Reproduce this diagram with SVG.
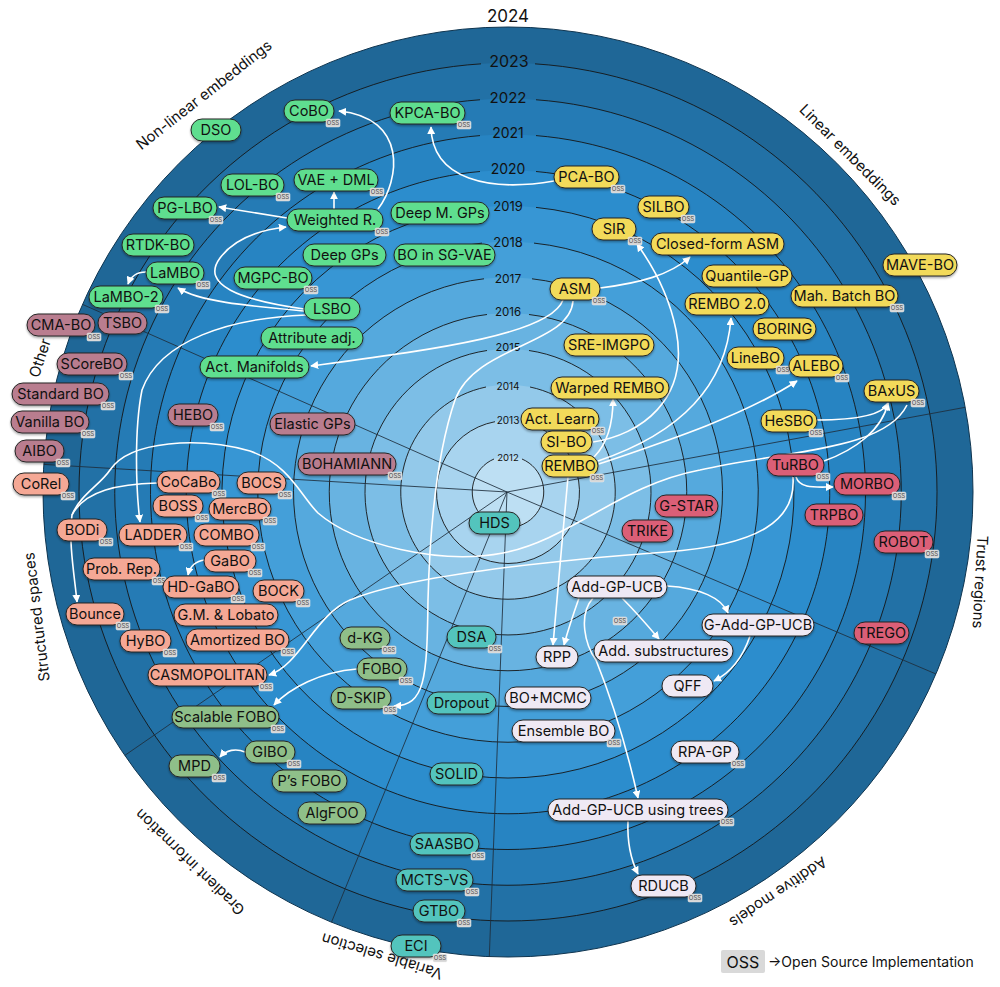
<svg xmlns="http://www.w3.org/2000/svg" width="1000" height="987" viewBox="0 0 1000 987">
<defs>
<style>
text{font-family:Inter,"Liberation Sans",sans-serif;fill:#111}
.yr{fill:none;stroke:#151515;stroke-width:0.9}
.sec{stroke:#1e2e3c;stroke-width:1;stroke-opacity:0.85}
.yl{text-anchor:middle}
.sl{font-size:15px;text-anchor:middle}
.node rect{stroke:#262626;stroke-width:1;filter:url(#sh)}
.node text{font-size:14.5px;text-anchor:middle}
text.ot{font-size:6px;fill:#4a4a4a;text-anchor:middle}
.nl rect{fill:#5ede8f}
.lin rect{fill:#f2da5a}
.oth rect{fill:#b97d8f}
.str rect{fill:#f5a895}
.grd rect{fill:#8fbf89}
.var rect{fill:#52c4bd}
.add rect{fill:#efe9f4}
.tr rect{fill:#db5f77}
.conn path{fill:none;stroke:#fff;stroke-width:1.6;marker-end:url(#ah)}
.conn path.nm{marker-end:none}
</style>
<filter id="sh" x="-20%" y="-40%" width="140%" height="200%"><feDropShadow dx="0" dy="1.5" stdDeviation="1.2" flood-color="#000" flood-opacity="0.35"/></filter>
<marker id="ah" viewBox="0 0 10 10" refX="9" refY="5" markerWidth="8" markerHeight="8" markerUnits="userSpaceOnUse" orient="auto"><path d="M0,0 L10,5 L0,10 z" fill="#fff"/></marker>
<g id="oss"><rect width="14" height="8" rx="1.5" fill="#d5d5d5" stroke="#efefef" stroke-width="0.5"/><text class="ot" x="7" y="6.3">OSS</text></g>
</defs>

<g id="rings">
<circle cx="508" cy="492" r="465" fill="#1f6797" stroke="#0f3550" stroke-width="1"/>
<circle cx="508" cy="492" r="429" fill="#2271a6"/>
<circle cx="508" cy="492" r="393.25" fill="#257bb5"/>
<circle cx="508" cy="492" r="357.5" fill="#2784c2"/>
<circle cx="508" cy="492" r="321.75" fill="#2c8dcd"/>
<circle cx="508" cy="492" r="286" fill="#3796d4"/>
<circle cx="508" cy="492" r="250.25" fill="#449fd9"/>
<circle cx="508" cy="492" r="214.5" fill="#55a9dd"/>
<circle cx="508" cy="492" r="178.75" fill="#68b3e1"/>
<circle cx="508" cy="492" r="143" fill="#7cbee6"/>
<circle cx="508" cy="492" r="107.25" fill="#93c9ea"/>
<circle cx="508" cy="492" r="71.5" fill="#a8d4ef"/>
<circle cx="508" cy="492" r="35.75" fill="#bddff3"/>
</g>

<g id="year-circles">
<path class="yr" d="M535,63.85 A429,429 0 1 1 481,63.85"/>
<path class="yr" d="M536,99.75 A393.25,393.25 0 1 1 480,99.75"/>
<path class="yr" d="M536,135.6 A357.5,357.5 0 1 1 480,135.6"/>
<path class="yr" d="M536,171.5 A321.75,321.75 0 1 1 480,171.5"/>
<path class="yr" d="M536,207.4 A286,286 0 1 1 480,207.4"/>
<path class="yr" d="M534,243.1 A250.25,250.25 0 1 1 482,243.1"/>
<path class="yr" d="M532,278.8 A214.5,214.5 0 1 1 484,278.8"/>
<path class="yr" d="M529,314.5 A178.75,178.75 0 1 1 487,314.5"/>
<path class="yr" d="M529,350.5 A143,143 0 1 1 487,350.5"/>
<path class="yr" d="M530,387 A107.25,107.25 0 1 1 486,387"/>
<path class="yr" d="M521,421.7 A71.5,71.5 0 1 1 495,421.7"/>
<path class="yr" d="M522,459 A35.75,35.75 0 1 1 494,459"/>
</g>

<g id="sector-lines">
<line class="sec" x1="507" y1="492" x2="82.5" y2="304.4"/>
<line class="sec" x1="507" y1="492" x2="43.8" y2="464.4"/>
<line class="sec" x1="507" y1="492" x2="124.8" y2="755.4"/>
<line class="sec" x1="507" y1="492" x2="331.5" y2="922.2"/>
<line class="sec" x1="507" y1="492" x2="489.3" y2="956.6"/>
<line class="sec" x1="507" y1="492" x2="936" y2="674"/>
<line class="sec" x1="507" y1="492" x2="965.2" y2="407.3"/>
</g>

<g id="year-labels" class="yl">
<text x="508" y="22" font-size="17">2024</text>
<text x="509" y="67" font-size="16">2023</text>
<text x="508" y="103" font-size="15">2022</text>
<text x="508" y="138" font-size="14">2021</text>
<text x="508" y="174" font-size="14">2020</text>
<text x="508" y="211" font-size="13">2019</text>
<text x="508" y="247" font-size="13">2018</text>
<text x="508" y="283" font-size="12">2017</text>
<text x="508" y="316" font-size="11.5">2016</text>
<text x="508" y="351" font-size="11">2015</text>
<text x="508" y="390" font-size="10">2014</text>
<text x="508" y="424" font-size="10">2013</text>
<text x="508" y="461" font-size="9.5">2012</text>
</g>

<g id="sector-labels" class="sl">
<text transform="translate(204,95) rotate(-38)" dy="5">Non-linear embeddings</text>
<text transform="translate(850,155) rotate(45)" dy="5">Linear embeddings</text>
<text transform="translate(980,582) rotate(93)" dy="5">Trust regions</text>
<text transform="translate(778,892) rotate(146)" dy="5">Additive models</text>
<text transform="translate(382,956) rotate(197)" dy="5">Variable selection</text>
<text transform="translate(190,862) rotate(224)" dy="5">Gradient information</text>
<text transform="translate(37,617) rotate(263)" dy="5">Structured spaces</text>
<text transform="translate(40,358) rotate(-72)" dy="5">Other</text>
</g>

<g id="connectors" class="conn">
<path d="M378,209 C400,180 408,118 339,111"/>
<path d="M334,209 L334,192"/>
<path d="M287,218 L219,207"/>
<path d="M304,309 C240,300 200,285 220,258 C235,238 260,230 286,227"/>
<path d="M304,311 C250,306 200,302 178,288"/>
<path d="M146,272 C138,272 131,276 128,284"/>
<path d="M306,315 C230,318 160,340 142,390 C134,430 136,490 140,522"/>
<path d="M563,300 C550,335 430,350 311,366"/>
<path d="M573,301 C570,345 475,345 455,400 C438,450 430,520 428,600 C427,680 425,705 394,706"/>
<path d="M600,288 C640,283 670,275 690,257"/>
<path d="M554,181 C490,192 432,180 431,127"/>
<path d="M593,442 C640,435 690,400 676,330 C668,290 650,262 637,244"/>
<path d="M598,461 C660,440 725,400 731,318"/>
<path d="M599,464 C670,440 745,415 797,381"/>
<path d="M594,457 C608,443 613,420 613,399"/>
<path d="M568,477 C563,530 557,600 553,645"/>
<path d="M817,420 C850,420 882,416 888,403"/>
<path d="M824,461 C855,450 882,430 888,403"/>
<path d="M796,477 C800,489 815,487 833,487"/>
<path d="M793,477 C796,520 760,545 666,552 C560,560 410,575 350,600 C315,615 300,665 269,675"/>
<path d="M907,405 C885,450 790,450 700,470 C620,485 570,540 503,553 C440,565 355,545 318,513 C300,495 290,465 250,451 C200,437 130,440 110,470 C100,485 80,495 72,515 C68,540 75,580 77,602"/>
<path class="nm" d="M157,483 C120,484 85,490 72,515"/>
<path d="M205,560 C196,561 190,566 188,575"/>
<path d="M245,752 C236,748 226,750 220,757"/>
<path d="M357,669 C320,672 290,688 274,705"/>
<path d="M579,598 C573,615 568,630 564,645"/>
<path d="M622,598 C636,612 648,626 659,639"/>
<path d="M667,586 C700,588 722,598 728,613"/>
<path d="M750,636 C742,660 730,673 714,681"/>
<path d="M593,598 C578,615 585,645 596,660 C608,690 625,740 638,798"/>
<path d="M628,821 C627,845 632,862 638,874"/>
</g>

<g id="nodes">
<g id="n-dso" class="node nl"><rect x="191" y="119" width="50" height="22" rx="11"/><text x="216" y="135">DSO</text></g>
<g id="n-cobo" class="node nl"><rect x="284" y="100" width="50" height="22" rx="11"/><text x="309" y="116">CoBO</text><use href="#oss" x="326" y="119"/></g>
<g id="n-kpcabo" class="node nl"><rect x="390" y="102" width="75" height="22" rx="11"/><text x="427.5" y="118">KPCA-BO</text><use href="#oss" x="457" y="121"/></g>
<g id="n-lolbo" class="node nl"><rect x="221" y="174" width="63" height="22" rx="11"/><text x="252.5" y="190">LOL-BO</text><use href="#oss" x="276" y="193"/></g>
<g id="n-vaedml" class="node nl"><rect x="294" y="169" width="84" height="22" rx="11"/><text x="336" y="185">VAE + DML</text><use href="#oss" x="370" y="188"/></g>
<g id="n-pglbo" class="node nl"><rect x="153" y="197" width="64" height="22" rx="11"/><text x="185" y="213">PG-LBO</text><use href="#oss" x="209" y="216"/></g>
<g id="n-weighted" class="node nl"><rect x="287" y="209" width="96" height="22" rx="11"/><text x="335" y="225">Weighted R.</text><use href="#oss" x="375" y="228"/></g>
<g id="n-deepmgps" class="node nl"><rect x="391" y="202" width="98" height="22" rx="11"/><text x="440" y="218">Deep M. GPs</text></g>
<g id="n-rtdkbo" class="node nl"><rect x="122" y="234" width="72" height="22" rx="11"/><text x="158" y="250">RTDK-BO</text></g>
<g id="n-deepgps" class="node nl"><rect x="303" y="244" width="83" height="22" rx="11"/><text x="344.5" y="260">Deep GPs</text></g>
<g id="n-sgvae" class="node nl"><rect x="394" y="244" width="101" height="22" rx="11"/><text x="444.5" y="260">BO in SG-VAE</text></g>
<g id="n-lambo" class="node nl"><rect x="146" y="262" width="58" height="22" rx="11"/><text x="175" y="278">LaMBO</text><use href="#oss" x="196" y="281"/></g>
<g id="n-mgpcbo" class="node nl"><rect x="234" y="267" width="78" height="22" rx="11"/><text x="273" y="283">MGPC-BO</text><use href="#oss" x="304" y="286"/></g>
<g id="n-lambo2" class="node nl"><rect x="89" y="286" width="74" height="22" rx="11"/><text x="126" y="302">LaMBO-2</text><use href="#oss" x="155" y="305"/></g>
<g id="n-lsbo" class="node nl"><rect x="304" y="298" width="56" height="22" rx="11"/><text x="332" y="314">LSBO</text></g>
<g id="n-attradj" class="node nl"><rect x="261" y="327" width="102" height="22" rx="11"/><text x="312" y="343">Attribute adj.</text></g>
<g id="n-actman" class="node nl"><rect x="200" y="356" width="109" height="22" rx="11"/><text x="254.5" y="372">Act. Manifolds</text></g>

<g id="n-pcabo" class="node lin"><rect x="554" y="166" width="65" height="22" rx="11"/><text x="586.5" y="182">PCA-BO</text><use href="#oss" x="611" y="185"/></g>
<g id="n-silbo" class="node lin"><rect x="638" y="196" width="51" height="22" rx="11"/><text x="663.5" y="212">SILBO</text><use href="#oss" x="681" y="215"/></g>
<g id="n-sir" class="node lin"><rect x="592" y="218" width="44" height="22" rx="11"/><text x="614" y="234">SIR</text><use href="#oss" x="628" y="237"/></g>
<g id="n-cfasm" class="node lin"><rect x="651" y="233" width="133" height="22" rx="11"/><text x="717.5" y="249">Closed-form ASM</text></g>
<g id="n-mavebo" class="node lin"><rect x="883" y="254" width="74" height="22" rx="11"/><text x="920" y="270">MAVE-BO</text></g>
<g id="n-asm" class="node lin"><rect x="550" y="278" width="50" height="22" rx="11"/><text x="575" y="294">ASM</text><use href="#oss" x="592" y="297"/></g>
<g id="n-quantile" class="node lin"><rect x="702" y="265" width="90" height="22" rx="11"/><text x="747" y="281">Quantile-GP</text></g>
<g id="n-mahbatch" class="node lin"><rect x="791" y="285" width="107" height="22" rx="11"/><text x="844.5" y="301">Mah. Batch BO</text><use href="#oss" x="890" y="304"/></g>
<g id="n-rembo2" class="node lin"><rect x="685" y="293" width="84" height="22" rx="11"/><text x="727" y="309">REMBO 2.0</text></g>
<g id="n-boring" class="node lin"><rect x="753" y="318" width="63" height="22" rx="11"/><text x="784.5" y="334">BORING</text></g>
<g id="n-sreimgpo" class="node lin"><rect x="564" y="334" width="90" height="22" rx="11"/><text x="609" y="350">SRE-IMGPO</text></g>
<g id="n-linebo" class="node lin"><rect x="727" y="347" width="57" height="22" rx="11"/><text x="755.5" y="363">LineBO</text><use href="#oss" x="776" y="366"/></g>
<g id="n-alebo" class="node lin"><rect x="789" y="355" width="54" height="22" rx="11"/><text x="816" y="371">ALEBO</text><use href="#oss" x="835" y="374"/></g>
<g id="n-warped" class="node lin"><rect x="551" y="377" width="118" height="22" rx="11"/><text x="610" y="393">Warped REMBO</text></g>
<g id="n-baxus" class="node lin"><rect x="864" y="380" width="55" height="22" rx="11"/><text x="891.5" y="396">BAxUS</text><use href="#oss" x="911" y="399"/></g>
<g id="n-actlearn" class="node lin"><rect x="521" y="408" width="78" height="22" rx="11"/><text x="560" y="424">Act. Learn</text><use href="#oss" x="591" y="427"/></g>
<g id="n-hesbo" class="node lin"><rect x="761" y="410" width="56" height="22" rx="11"/><text x="789" y="426">HeSBO</text><use href="#oss" x="809" y="429"/></g>
<g id="n-sibo" class="node lin"><rect x="541" y="431" width="51" height="22" rx="11"/><text x="566.5" y="447">SI-BO</text></g>
<g id="n-rembo" class="node lin"><rect x="542" y="455" width="56" height="22" rx="11"/><text x="570" y="471">REMBO</text><use href="#oss" x="590" y="474"/></g>

<g id="n-cmabo" class="node oth"><rect x="27" y="314" width="68" height="22" rx="11"/><text x="61" y="330">CMA-BO</text><use href="#oss" x="87" y="333"/></g>
<g id="n-tsbo" class="node oth"><rect x="98" y="312" width="49" height="22" rx="11"/><text x="122.5" y="328">TSBO</text></g>
<g id="n-scorebo" class="node oth"><rect x="57" y="353" width="70" height="22" rx="11"/><text x="92" y="369">SCoreBO</text><use href="#oss" x="119" y="372"/></g>
<g id="n-standard" class="node oth"><rect x="12" y="383" width="97" height="22" rx="11"/><text x="60.5" y="399">Standard BO</text><use href="#oss" x="101" y="402"/></g>
<g id="n-vanilla" class="node oth"><rect x="11" y="411" width="78" height="22" rx="11"/><text x="50" y="427">Vanilla BO</text><use href="#oss" x="81" y="430"/></g>
<g id="n-aibo" class="node oth"><rect x="15" y="440" width="49" height="22" rx="11"/><text x="39.5" y="456">AIBO</text><use href="#oss" x="56" y="459"/></g>
<g id="n-hebo" class="node oth"><rect x="168" y="404" width="50" height="22" rx="11"/><text x="193" y="420">HEBO</text><use href="#oss" x="210" y="423"/></g>
<g id="n-elastic" class="node oth"><rect x="270" y="413" width="85" height="22" rx="11"/><text x="312.5" y="429">Elastic GPs</text></g>
<g id="n-bohamiann" class="node oth"><rect x="298" y="453" width="98" height="22" rx="11"/><text x="347" y="469">BOHAMIANN</text><use href="#oss" x="388" y="472"/></g>

<g id="n-corel" class="node str"><rect x="13" y="473" width="56" height="22" rx="11"/><text x="41" y="489">CoRel</text><use href="#oss" x="61" y="492"/></g>
<g id="n-cocabo" class="node str"><rect x="157" y="471" width="63" height="22" rx="11"/><text x="188.5" y="487">CoCaBo</text><use href="#oss" x="212" y="490"/></g>
<g id="n-bocs" class="node str"><rect x="237" y="472" width="49" height="22" rx="11"/><text x="261.5" y="488">BOCS</text><use href="#oss" x="278" y="491"/></g>
<g id="n-boss" class="node str"><rect x="153" y="495" width="50" height="22" rx="11"/><text x="178" y="511">BOSS</text><use href="#oss" x="195" y="514"/></g>
<g id="n-mercbo" class="node str"><rect x="209" y="498" width="62" height="22" rx="11"/><text x="240" y="514">MercBO</text><use href="#oss" x="263" y="517"/></g>
<g id="n-bodi" class="node str"><rect x="57" y="519" width="50" height="22" rx="11"/><text x="82" y="535">BODi</text><use href="#oss" x="99" y="538"/></g>
<g id="n-ladder" class="node str"><rect x="119" y="524" width="68" height="22" rx="11"/><text x="153" y="540">LADDER</text><use href="#oss" x="179" y="543"/></g>
<g id="n-combo" class="node str"><rect x="194" y="524" width="65" height="22" rx="11"/><text x="226.5" y="540">COMBO</text><use href="#oss" x="251" y="543"/></g>
<g id="n-gabo" class="node str"><rect x="204" y="550" width="52" height="22" rx="11"/><text x="230" y="566">GaBO</text><use href="#oss" x="248" y="569"/></g>
<g id="n-probrep" class="node str"><rect x="83" y="558" width="77" height="22" rx="11"/><text x="121.5" y="574">Prob. Rep.</text><use href="#oss" x="152" y="577"/></g>
<g id="n-hdgabo" class="node str"><rect x="163" y="576" width="76" height="22" rx="11"/><text x="201" y="592">HD-GaBO</text><use href="#oss" x="231" y="595"/></g>
<g id="n-bock" class="node str"><rect x="253" y="580" width="51" height="22" rx="11"/><text x="278.5" y="596">BOCK</text><use href="#oss" x="296" y="599"/></g>
<g id="n-bounce" class="node str"><rect x="66" y="603" width="58" height="22" rx="11"/><text x="95" y="619">Bounce</text><use href="#oss" x="116" y="622"/></g>
<g id="n-gmlobato" class="node str"><rect x="174" y="604" width="104" height="22" rx="11"/><text x="226" y="620">G.M. &amp; Lobato</text></g>
<g id="n-hybo" class="node str"><rect x="120" y="630" width="51" height="22" rx="11"/><text x="145.5" y="646">HyBO</text><use href="#oss" x="163" y="649"/></g>
<g id="n-amortized" class="node str"><rect x="186" y="629" width="103" height="22" rx="11"/><text x="237.5" y="645">Amortized BO</text><use href="#oss" x="281" y="648"/></g>
<g id="n-casmo" class="node str"><rect x="148" y="664" width="119" height="22" rx="11"/><text x="207.5" y="680">CASMOPOLITAN</text><use href="#oss" x="259" y="683"/></g>

<g id="n-dkg" class="node grd"><rect x="340" y="627" width="50" height="22" rx="11"/><text x="365" y="643">d-KG</text><use href="#oss" x="382" y="646"/></g>
<g id="n-fobo" class="node grd"><rect x="357" y="658" width="50" height="22" rx="11"/><text x="382" y="674">FOBO</text><use href="#oss" x="399" y="677"/></g>
<g id="n-dskip" class="node grd"><rect x="331" y="687" width="60" height="22" rx="11"/><text x="361" y="703">D-SKIP</text><use href="#oss" x="383" y="706"/></g>
<g id="n-scalfobo" class="node grd"><rect x="172" y="706" width="107" height="22" rx="11"/><text x="225.5" y="722">Scalable FOBO</text><use href="#oss" x="271" y="725"/></g>
<g id="n-gibo" class="node grd"><rect x="245" y="741" width="50" height="22" rx="11"/><text x="270" y="757">GIBO</text><use href="#oss" x="287" y="760"/></g>
<g id="n-mpd" class="node grd"><rect x="169" y="755" width="51" height="22" rx="11"/><text x="194.5" y="771">MPD</text><use href="#oss" x="212" y="774"/></g>
<g id="n-psfobo" class="node grd"><rect x="272" y="770" width="75" height="22" rx="11"/><text x="309.5" y="786">P’s FOBO</text></g>
<g id="n-algfoo" class="node grd"><rect x="298" y="802" width="68" height="22" rx="11"/><text x="332" y="818">AlgFOO</text></g>

<g id="n-hds" class="node var"><rect x="469" y="512" width="51" height="22" rx="11"/><text x="494.5" y="528">HDS</text></g>
<g id="n-dsa" class="node var"><rect x="447" y="626" width="49" height="22" rx="11"/><text x="471.5" y="642">DSA</text><use href="#oss" x="488" y="645"/></g>
<g id="n-dropout" class="node var"><rect x="427" y="692" width="69" height="22" rx="11"/><text x="461.5" y="708">Dropout</text></g>
<g id="n-solid" class="node var"><rect x="430" y="763" width="53" height="22" rx="11"/><text x="456.5" y="779">SOLID</text></g>
<g id="n-saasbo" class="node var"><rect x="410" y="833" width="69" height="22" rx="11"/><text x="444.5" y="849">SAASBO</text><use href="#oss" x="471" y="852"/></g>
<g id="n-mctsvs" class="node var"><rect x="396" y="869" width="77" height="22" rx="11"/><text x="434.5" y="885">MCTS-VS</text><use href="#oss" x="465" y="888"/></g>
<g id="n-gtbo" class="node var"><rect x="413" y="900" width="52" height="22" rx="11"/><text x="439" y="916">GTBO</text><use href="#oss" x="457" y="919"/></g>
<g id="n-eci" class="node var"><rect x="391" y="935" width="50" height="22" rx="11"/><text x="416" y="951">ECI</text><use href="#oss" x="433" y="954"/></g>

<g id="n-addgpucb" class="node add"><rect x="567" y="576" width="100" height="22" rx="11"/><text x="617" y="592">Add-GP-UCB</text><use href="#oss" x="613" y="617"/></g>
<g id="n-rpp" class="node add"><rect x="536" y="646" width="42" height="22" rx="11"/><text x="557" y="662">RPP</text></g>
<g id="n-addsub" class="node add"><rect x="594" y="640" width="139" height="22" rx="11"/><text x="663.5" y="656">Add. substructures</text></g>
<g id="n-gadd" class="node add"><rect x="702" y="614" width="112" height="22" rx="11"/><text x="758" y="630">G-Add-GP-UCB</text></g>
<g id="n-qff" class="node add"><rect x="662" y="675" width="51" height="22" rx="11"/><text x="687.5" y="691">QFF</text></g>
<g id="n-bomcmc" class="node add"><rect x="505" y="687" width="86" height="22" rx="11"/><text x="548" y="703">BO+MCMC</text></g>
<g id="n-ensemble" class="node add"><rect x="512" y="720" width="103" height="22" rx="11"/><text x="563.5" y="736">Ensemble BO</text><use href="#oss" x="607" y="739"/></g>
<g id="n-rpagp" class="node add"><rect x="671" y="741" width="68" height="22" rx="11"/><text x="705" y="757">RPA-GP</text><use href="#oss" x="731" y="760"/></g>
<g id="n-addtrees" class="node add"><rect x="548" y="799" width="180" height="22" rx="11"/><text x="638" y="815">Add-GP-UCB using trees</text><use href="#oss" x="720" y="818"/></g>
<g id="n-rducb" class="node add"><rect x="631" y="875" width="65" height="22" rx="11"/><text x="663.5" y="891">RDUCB</text><use href="#oss" x="688" y="894"/></g>

<g id="n-turbo" class="node tr"><rect x="767" y="454" width="57" height="22" rx="11"/><text x="795.5" y="470">TuRBO</text><use href="#oss" x="816" y="473"/></g>
<g id="n-morbo" class="node tr"><rect x="834" y="473" width="66" height="22" rx="11"/><text x="867" y="489">MORBO</text><use href="#oss" x="892" y="492"/></g>
<g id="n-gstar" class="node tr"><rect x="655" y="495" width="63" height="22" rx="11"/><text x="686.5" y="511">G-STAR</text></g>
<g id="n-trpbo" class="node tr"><rect x="805" y="504" width="58" height="22" rx="11"/><text x="834" y="520">TRPBO</text></g>
<g id="n-trike" class="node tr"><rect x="622" y="520" width="51" height="22" rx="11"/><text x="647.5" y="536">TRIKE</text></g>
<g id="n-robot" class="node tr"><rect x="874" y="531" width="59" height="22" rx="11"/><text x="903.5" y="547">ROBOT</text><use href="#oss" x="925" y="550"/></g>
<g id="n-trego" class="node tr"><rect x="854" y="622" width="55" height="22" rx="11"/><text x="881.5" y="638">TREGO</text></g>
</g>

<g id="legend">
<rect x="721" y="950" width="44" height="23" rx="2" fill="#d9d9d9"/>
<text x="743" y="968" font-size="16" text-anchor="middle">OSS</text>
<text x="768" y="967" font-size="14">→Open Source Implementation</text>
</g>
</svg>
